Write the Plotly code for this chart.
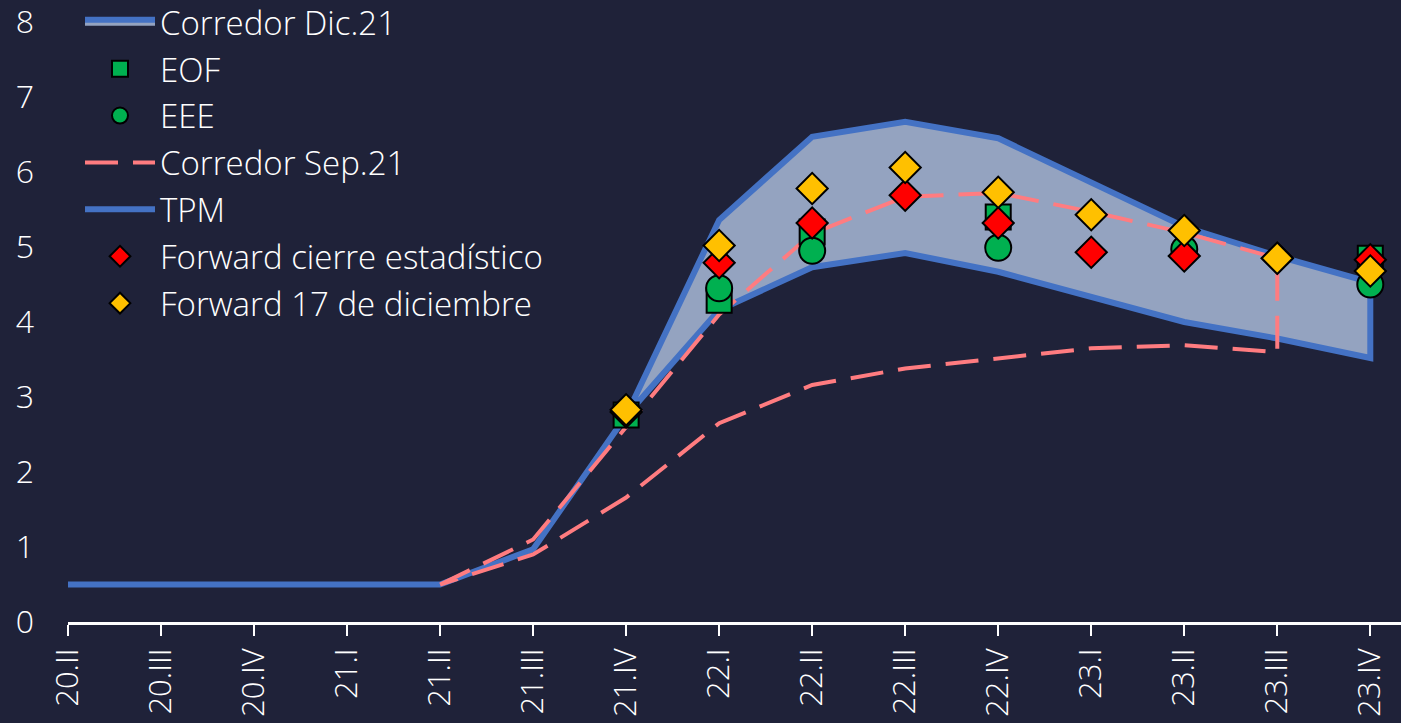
import plotly.graph_objects as go

# quarters on the x axis
quarters = ["20.II", "20.III", "20.IV", "21.I", "21.II", "21.III", "21.IV",
            "22.I", "22.II", "22.III", "22.IV", "23.I", "23.II", "23.III", "23.IV"]

# policy rate (TPM), observed
tpm = [0.5, 0.5, 0.5, 0.5, 0.5, 0.97, 2.75]

# corridor Dic.21, from 21.IV to 23.IV
dic_q = quarters[6:]
dic_upper = [2.75, 5.36, 6.47, 6.67, 6.45, 5.86, 5.27, 4.88, 4.53]
dic_lower = [2.75, 4.16, 4.73, 4.92, 4.67, 4.33, 4.0, 3.78, 3.52]

# corridor Sep.21, from 21.II to 23.III
sep_q = quarters[4:14]
sep_upper = [0.5, 1.1, 2.6, 4.1, 5.18, 5.67, 5.72, 5.47, 5.19, 4.85]
sep_lower = [0.5, 0.9, 1.66, 2.65, 3.16, 3.38, 3.52, 3.65, 3.69, 3.6]

# surveys
eof_q = ["21.IV", "22.I", "22.II", "22.IV", "23.IV"]
eof = [2.76, 4.29, 5.2, 5.4, 4.85]
eee_q = ["22.I", "22.II", "22.IV", "23.II", "23.IV"]
eee = [4.45, 4.95, 4.99, 4.97, 4.5]

# forwards
fwd_q = quarters[6:]
fwd_cierre = [2.8, 4.79, 5.32, 5.69, 5.32, 4.93, 4.88, 4.85, 4.83]
fwd_17dic = [2.83, 5.02, 5.78, 6.06, 5.73, 5.43, 5.22, 4.85, 4.68]

BG = "#1f2239"
BLUE = "#4472c4"
SALMON = "#ff7c80"
FONT = "Open Sans"

fig = go.Figure()

# band Dic.21 as a closed outline
fig.add_trace(go.Scatter(
    x=dic_q + dic_q[::-1], y=dic_upper + dic_lower[::-1],
    mode="lines", fill="toself", fillcolor="rgb(148,163,192)",
    line=dict(color=BLUE, width=6),
    name="Corredor Dic.21", legendrank=1, legendgroup="a",
))

# TPM
fig.add_trace(go.Scatter(
    x=quarters[:7], y=tpm, mode="lines",
    line=dict(color=BLUE, width=6),
    name="TPM", legendrank=5, legendgroup="e",
))

# corridor Sep.21 (single dashed path)
fig.add_trace(go.Scatter(
    x=sep_q + sep_q[::-1], y=sep_upper + sep_lower[::-1], mode="lines",
    line=dict(color=SALMON, width=4, dash="33px,15px"),
    name="Corredor Sep.21", legendrank=4, legendgroup="d",
))

mline = dict(color="black", width=2)
fig.add_trace(go.Scatter(
    x=eof_q, y=eof, mode="markers",
    marker=dict(symbol="square", size=25, color="#00b050", line=mline),
    name="EOF", legendrank=2, legendgroup="b",
))
fig.add_trace(go.Scatter(
    x=eee_q, y=eee, mode="markers",
    marker=dict(symbol="circle", size=26, color="#00b050", line=mline),
    name="EEE", legendrank=3, legendgroup="c",
))
fig.add_trace(go.Scatter(
    x=fwd_q, y=fwd_cierre, mode="markers",
    marker=dict(symbol="diamond", size=24, color="#ff0000", line=mline),
    name="Forward cierre estadístico", legendrank=6, legendgroup="f",
))
fig.add_trace(go.Scatter(
    x=fwd_q, y=fwd_17dic, mode="markers",
    marker=dict(symbol="diamond", size=24, color="#ffc000", line=mline),
    name="Forward 17 de diciembre", legendrank=7, legendgroup="g",
))

fig.update_layout(
    width=1401, height=723,
    paper_bgcolor=BG, plot_bgcolor=BG,
    margin=dict(l=68, r=0, t=22, b=101, autoexpand=False),
    font=dict(family=FONT, size=32, color="white", weight=300),
    showlegend=True,
    legend=dict(
        x=0.009, y=1.047, xanchor="left", yanchor="top",
        bgcolor="rgba(0,0,0,0)", itemwidth=70,
        tracegroupgap=1, font=dict(family=FONT, size=33, color="white", weight=300),
    ),
)

fig.update_xaxes(
    type="category", categoryorder="array", categoryarray=quarters,
    range=[0, 14.33], showgrid=False, zeroline=False,
    showline=True, linecolor="white", linewidth=3,
    ticks="outside", tickcolor="white", ticklen=11, tickwidth=2,
    tickangle=-90, tickfont=dict(family=FONT, size=31, color="white", weight=300),
    ticklabeloverflow="allow",
)
fig.update_yaxes(
    range=[0, 8], dtick=1, showgrid=False, zeroline=False, showline=False,
    tickfont=dict(family=FONT, size=32, color="white", weight=300), ticklabelstandoff=33,
    ticklabeloverflow="allow",
)

fig.write_html("out.html", config={"displayModeBar": False},
               post_script="document.body.style.margin='0';")
